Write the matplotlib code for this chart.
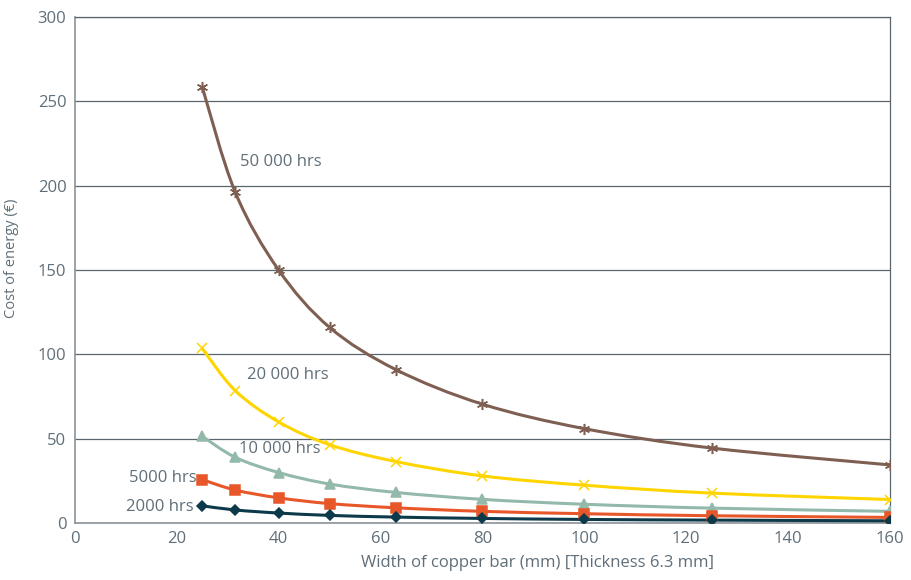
import numpy as np
import matplotlib.pyplot as plt
from matplotlib.path import Path
from matplotlib.patches import PathPatch

plt.rcParams['font.family'] = ['Open Sans', 'DejaVu Sans']

# bar width (mm)
width = [25, 31.5, 40, 50, 63, 80, 100, 125, 160]

# cost of energy (EUR) per running hours
cost_50000 = [258.5, 196, 150, 116, 91, 70.5, 56, 44.5, 34.5]
cost_20000 = [103.5, 78.5, 60, 46.5, 36.5, 28, 22.5, 17.8, 14]
cost_10000 = [51.5, 39, 30, 23.2, 18.2, 14.1, 11.2, 8.9, 7]
cost_5000 = [25.8, 19.6, 15, 11.6, 9.1, 7, 5.6, 4.4, 3.4]
cost_2000 = [10.3, 7.8, 6, 4.6, 3.6, 2.8, 2.2, 1.8, 1.4]

series = [
    (cost_50000, '#7e5f52', (6, 2, 0), 8, '50 000 hrs', (32.5, 214), 'left'),
    (cost_20000, '#ffd500', 'x', 7, '20 000 hrs', (33.7, 88), 'left'),
    (cost_10000, '#93b9ab', '^', 7, '10 000 hrs', (32.3, 44), 'left'),
    (cost_5000, '#e8572a', 's', 7, '5000 hrs', (23.9, 27), 'right'),
    (cost_2000, '#0c3a4b', 'D', 5, '2000 hrs', (23.4, 9.5), 'right'),
]

text_col = '#5f6e78'
grid_col = '#5a666e'


def smooth_path(x, y, t=1 / 6):
    # Catmull-Rom style bezier through the points, like a spreadsheet "smoothed line"
    x = np.asarray(x, float)
    y = np.asarray(y, float)
    verts = [(x[0], y[0])]
    codes = [Path.MOVETO]
    n = len(x)
    for i in range(n - 1):
        x0, y0 = (x[i - 1], y[i - 1]) if i > 0 else (x[i], y[i])
        x3, y3 = (x[i + 2], y[i + 2]) if i + 2 < n else (x[i + 1], y[i + 1])
        c1 = (x[i] + (x[i + 1] - x0) * t, y[i] + (y[i + 1] - y0) * t)
        c2 = (x[i + 1] - (x3 - x[i]) * t, y[i + 1] - (y3 - y[i]) * t)
        verts += [c1, c2, (x[i + 1], y[i + 1])]
        codes += [Path.CURVE4] * 3
    return Path(verts, codes)


fig = plt.figure(figsize=(9.12, 5.8), dpi=100)
ax = fig.add_axes([0.082, 0.098, 0.894, 0.873])

for vals, col, mk, ms, lbl, pos, ha in series:
    ax.add_patch(PathPatch(smooth_path(width, vals), facecolor='none',
                           edgecolor=col, lw=2.2, zorder=3))
    ax.plot(width, vals, ls='none', marker=mk, ms=ms, color=col,
            mec=col, mew=1.1, zorder=4)
    ax.text(pos[0], pos[1], lbl, ha=ha, va='center', fontsize=12,
            color=text_col)

ax.set_xlim(0, 160)
ax.set_ylim(0, 300)
ax.set_xticks(np.arange(0, 161, 20))
ax.set_yticks(np.arange(0, 301, 50))
ax.yaxis.grid(True, color=grid_col, lw=0.9)
ax.set_axisbelow(True)
ax.tick_params(length=0, labelsize=12, colors=text_col, pad=6)
for s in ax.spines.values():
    s.set_color('#8a949a')
    s.set_linewidth(1.2)
ax.spines['right'].set_color(grid_col)
ax.spines['right'].set_linewidth(0.9)
ax.spines['top'].set_color(grid_col)
ax.spines['top'].set_linewidth(0.9)

ax.set_xlabel('Width of copper bar (mm) [Thickness 6.3 mm]', fontsize=12,
              color=text_col, labelpad=3)
ax.xaxis.set_label_coords(0.568, -0.062)
ax.set_ylabel('Cost of energy (€)', fontsize=10.5, color=text_col)
ax.yaxis.set_label_coords(-0.068, 0.524)

fig.savefig('out.png', dpi=100)
